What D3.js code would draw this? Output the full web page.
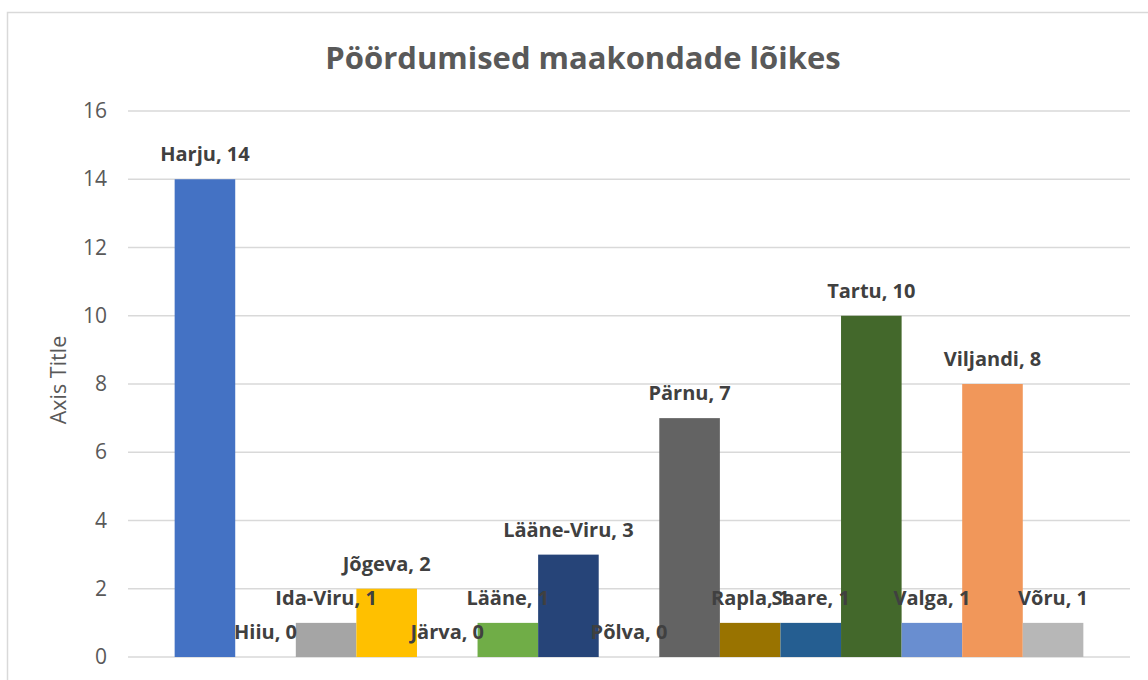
<!DOCTYPE html>
<html>
<head>
<meta charset="utf-8">
<script src="https://cdn.jsdelivr.net/npm/d3@7"></script>
<style>
  body { margin: 0; background: #fff; }
  svg { display: block; }
</style>
</head>
<body>
<svg id="chart"></svg>
<script>
// counties and values
var counties = ["Harju", "Hiiu", "Ida-Viru", "Jõgeva", "Järva", "Lääne", "Lääne-Viru",
                "Põlva", "Pärnu", "Rapla", "Saare", "Tartu", "Valga", "Viljandi", "Võru"];
var counts = [14, 0, 1, 2, 0, 1, 3, 0, 7, 1, 1, 10, 1, 8, 1];
var colors = ["#4472C4", "#ED7D31", "#A5A5A5", "#FFC000", "#5B9BD5", "#70AD47", "#264478",
              "#9E480E", "#636363", "#997300", "#255E91", "#43682B", "#698ED0", "#F1975A", "#B7B7B7"];
var yTicks = [0, 2, 4, 6, 8, 10, 12, 14, 16];

var W = 1148, H = 680;
var margin = {top: 111, right: 18, bottom: 23, left: 128},
    width = W - margin.left - margin.right,
    height = H - margin.top - margin.bottom;

var svg = d3.select("#chart")
    .attr("width", W)
    .attr("height", H);

// chart border
svg.append("rect")
    .attr("x", 7.5).attr("y", 12.5)
    .attr("width", 1300).attr("height", 800)
    .attr("fill", "#fff")
    .attr("stroke", "#d9d9d9")
    .attr("stroke-width", 1.5);

// title
svg.append("text")
    .attr("x", 583)
    .attr("y", 69)
    .attr("text-anchor", "middle")
    .style("font-family", "'Open Sans', sans-serif")
    .style("font-weight", "bold")
    .style("font-size", "31px")
    .style("fill", "#595959")
    .text("Pöördumised maakondade lõikes");

var g = svg.append("g")
    .attr("transform", "translate(" + margin.left + "," + margin.top + ")");

var x = d3.scaleBand()
    .domain(counties)
    .range([0, width])
    .paddingInner(0)
    .paddingOuter(0.77);

var y = d3.scaleLinear()
    .domain([0, 16])
    .range([height, 0]);

// gridlines
g.selectAll(".grid")
    .data(yTicks).enter()
  .append("line")
    .attr("x1", 0).attr("x2", width)
    .attr("y1", function(d) { return y(d); })
    .attr("y2", function(d) { return y(d); })
    .attr("stroke", "#d9d9d9")
    .attr("stroke-width", 1.5);

// y axis labels
var yAxis = d3.axisLeft(y).tickValues(yTicks).tickSize(0).tickPadding(21);
g.append("g")
    .call(yAxis)
    .call(function(ax) { ax.select(".domain").remove(); })
    .selectAll("text")
    .style("font-family", "'Open Sans', sans-serif")
    .style("font-size", "21px")
    .style("fill", "#595959");

// axis title
g.append("text")
    .attr("transform", "rotate(-90)")
    .attr("x", -269)
    .attr("y", -62)
    .attr("text-anchor", "middle")
    .style("font-family", "'Open Sans', sans-serif")
    .style("font-size", "21.5px")
    .style("fill", "#595959")
    .text("Axis Title");

// bars
g.selectAll(".bar")
    .data(counties).enter()
  .append("rect")
    .attr("class", "bar")
    .attr("x", function(d) { return x(d); })
    .attr("width", x.bandwidth())
    .attr("y", function(d, i) { return y(counts[i]); })
    .attr("height", function(d, i) { return height - y(counts[i]); })
    .attr("fill", function(d, i) { return colors[i]; });

// data labels
g.selectAll(".lbl")
    .data(counties).enter()
  .append("text")
    .attr("class", "lbl")
    .attr("x", function(d) { return x(d) + x.bandwidth() / 2; })
    .attr("y", function(d, i) { return y(counts[i]) - 18; })
    .attr("text-anchor", "middle")
    .style("font-family", "'Open Sans', sans-serif")
    .style("font-weight", "bold")
    .style("font-size", "20px")
    .style("fill", "#404040")
    .text(function(d, i) { return d + ", " + counts[i]; });
</script>
</body>
</html>
